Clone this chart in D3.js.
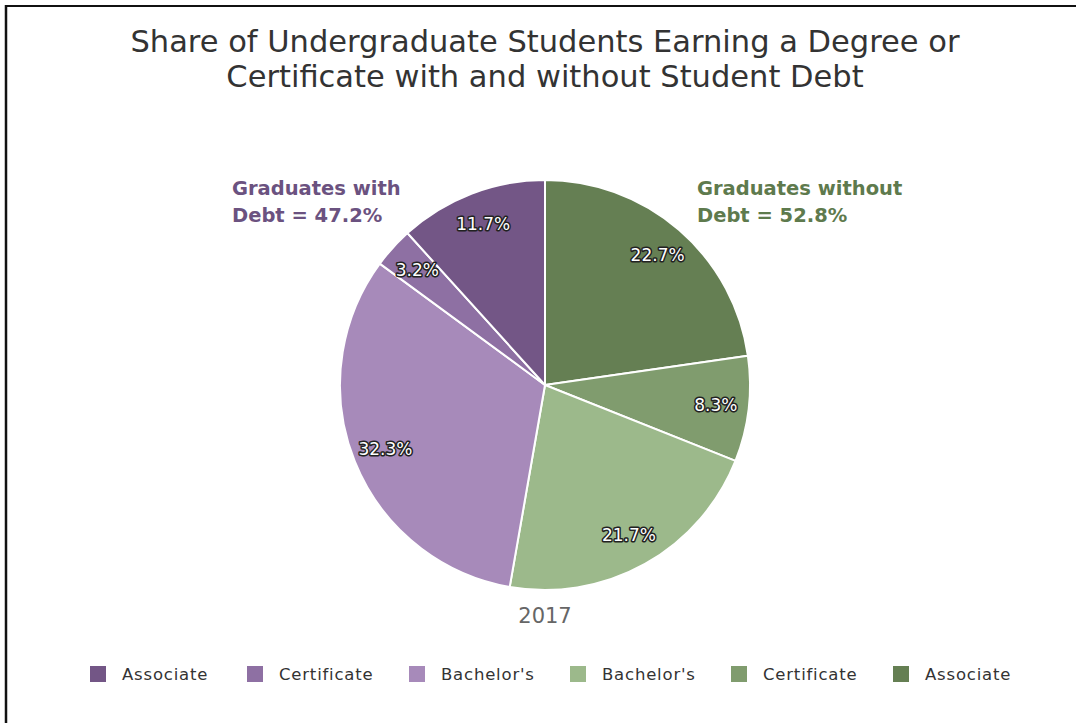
<!DOCTYPE html>
<html>
<head>
<meta charset="utf-8">
<script src="https://cdn.jsdelivr.net/npm/d3@7"></script>
<style>
  html, body { margin: 0; padding: 0; background: #fff; }
  svg { display: block; }
  text { font-family: "DejaVu Sans", "Open Sans", sans-serif; }
</style>
</head>
<body>
<svg id="chart" width="1076" height="723"></svg>
<script>
// ---- Data ----
const titleLines = ["Share of Undergraduate Students Earning a Degree or", "Certificate with and without Student Debt"];
const sliceNames = ["Associate", "Certificate", "Bachelor's", "Bachelor's", "Certificate", "Associate"];
const sliceGroups = ["without", "without", "without", "with", "with", "with"];
const sliceValues = [22.7, 8.3, 21.7, 32.3, 3.2, 11.7];
const sliceColors = ["#657f53", "#809c6e", "#9cb98b", "#a78aba", "#8e70a3", "#735686"];
const legendNames = ["Associate", "Certificate", "Bachelor's", "Bachelor's", "Certificate", "Associate"];
const legendColors = ["#735686", "#8e70a3", "#a78aba", "#9cb98b", "#809c6e", "#657f53"];
const groupLabels = [
  { lines: ["Graduates with", "Debt = 47.2%"], color: "#6b5280" },
  { lines: ["Graduates without", "Debt = 52.8%"], color: "#5e7a4d" }
];
const yearLabel = "2017";

// ---- Drawing ----
const svg = d3.select("#chart");
const W = 1076, H = 723;

// frame lines (top and left)
svg.append("line").attr("x1", 6).attr("y1", 6).attr("x2", W).attr("y2", 6)
  .attr("stroke", "#111").attr("stroke-width", 2);
svg.append("line").attr("x1", 6).attr("y1", 5).attr("x2", 6).attr("y2", H)
  .attr("stroke", "#111").attr("stroke-width", 2.5);

// title
svg.append("text")
  .attr("x", 545).attr("text-anchor", "middle")
  .attr("fill", "#333").attr("font-size", 30.5)
  .selectAll("tspan").data(titleLines).join("tspan")
  .attr("x", 545).attr("y", (d, i) => 52 + i * 35).text(d => d);

const cx = 545, cy = 385, R = 205;
const g = svg.append("g").attr("transform", `translate(${cx},${cy})`);

const pie = d3.pie().sort(null).value(d => d.v);
const data = sliceValues.map((v, i) => ({ v, name: sliceNames[i], color: sliceColors[i] }));
const arcs = pie(data);
const arc = d3.arc().innerRadius(0).outerRadius(R);
const labelArc = d3.arc().innerRadius(172).outerRadius(172);

g.selectAll("path.slice").data(arcs).join("path")
  .attr("class", "slice")
  .attr("d", arc)
  .attr("fill", d => d.data.color)
  .attr("stroke", "#fff").attr("stroke-width", 2).attr("stroke-linejoin", "round");

const lbl = g.selectAll("g.lbl").data(arcs).join("g").attr("class", "lbl")
  .attr("transform", d => `translate(${labelArc.centroid(d)})`);
lbl.append("text")
  .attr("text-anchor", "middle").attr("dy", "0.35em")
  .attr("font-size", 17)
  .attr("fill", "#fff").attr("stroke", "#222").attr("stroke-width", 3)
  .attr("stroke-linejoin", "round").attr("paint-order", "stroke")
  .text(d => d.data.v.toFixed(1) + "%");

// group annotations
const gl = [{ x: 232, y: 195 }, { x: 697, y: 195 }];
groupLabels.forEach((lab, i) => {
  svg.append("text")
    .attr("font-size", 19.5).attr("font-weight", "bold").attr("fill", lab.color)
    .selectAll("tspan").data(lab.lines).join("tspan")
    .attr("x", gl[i].x).attr("y", (d, j) => gl[i].y + j * 27).text(d => d);
});

// year
svg.append("text").attr("x", cx).attr("y", 623).attr("text-anchor", "middle")
  .attr("fill", "#666").attr("font-size", 21).text(yearLabel);

// legend
const legX = [90, 247, 409, 570, 731, 893];
const leg = svg.selectAll("g.leg").data(legendNames).join("g").attr("class", "leg")
  .attr("transform", (d, i) => `translate(${legX[i]},674)`);
leg.append("rect").attr("x", 0).attr("y", -8).attr("width", 16).attr("height", 16)
  .attr("fill", (d, i) => legendColors[i]);
leg.append("text").attr("x", 32).attr("y", 0).attr("dy", "0.35em")
  .attr("font-size", 16.5).attr("letter-spacing", 0.8).attr("fill", "#333").text(d => d);
</script>
</body>
</html>
